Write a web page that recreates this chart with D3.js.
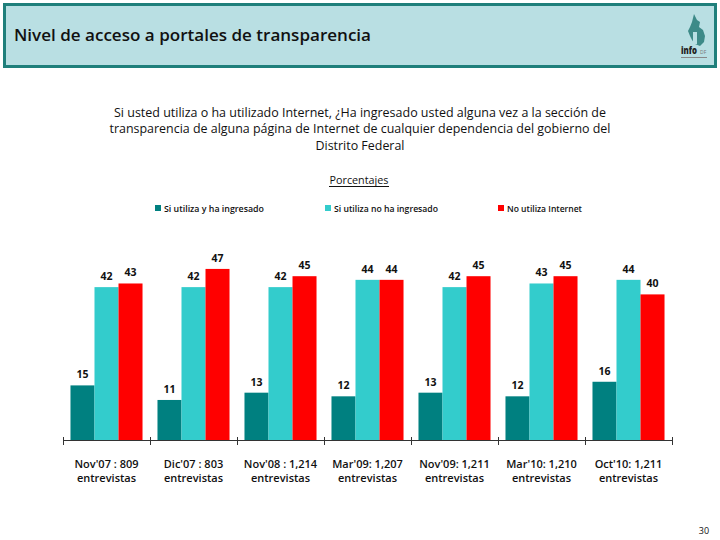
<!DOCTYPE html>
<html><head><meta charset="utf-8">
<script src="https://cdn.jsdelivr.net/npm/d3@7"></script>
<style>html,body{margin:0;padding:0;background:#fff;}svg{display:block;}</style>
</head><body>
<script>
const categories = ["Nov'07 : 809", "Dic'07 : 803", "Nov'08 : 1,214", "Mar'09: 1,207", "Nov'09: 1,211", "Mar'10: 1,210", "Oct'10: 1,211"];
const categorySub = "entrevistas";
const seriesNames = ["Si utiliza y ha ingresado", "Si utiliza no ha ingresado", "No utiliza Internet"];
const utilizaIngresado = [15, 11, 13, 12, 13, 12, 16];
const utilizaNoIngresado = [42, 42, 42, 44, 42, 43, 44];
const noUtiliza = [43, 47, 45, 44, 45, 45, 40];
const colors = ["#008080", "#33CCCC", "#FF0000"];
const titleText = "Nivel de acceso a portales de transparencia";
const questionLines = ["Si usted utiliza o ha utilizado Internet, ¿Ha ingresado usted alguna vez a la sección de",
  "transparencia de alguna página de Internet de cualquier dependencia del gobierno del",
  "Distrito Federal"];
const subtitle = "Porcentajes";
const pageNum = "30";

const series = [utilizaIngresado, utilizaNoIngresado, noUtiliza];
const font = "'Open Sans', 'Noto Sans', sans-serif";

const svg = d3.select("body").append("svg").attr("width", 720).attr("height", 540);

// header bar
svg.append("rect").attr("x", 4.5).attr("y", 4.5).attr("width", 711).attr("height", 62)
  .attr("fill", "#B9DFE3").attr("stroke", "#1F7F7B").attr("stroke-width", 3);
svg.append("text").attr("x", 14).attr("y", 41).text(titleText)
  .attr("font-family", font).attr("font-weight", 600).attr("font-size", 16.5).attr("fill", "#111")
  .attr("textLength", 357).attr("lengthAdjust", "spacingAndGlyphs");

// logo
const logo = svg.append("g");
logo.append("path").attr("d", "M694,14 L697,20 L700,22 L699,27 L703,30 L705,36 L704,42 L700,46 L695,44 L692,40 L690,36 L688,31 L690,27 L692,22 Z")
  .attr("fill", "#3D8A88");
logo.append("rect").attr("x", 693).attr("y", 32).attr("width", 4).attr("height", 12).attr("fill", "#B9DFE3");
logo.append("text").attr("x", 681).attr("y", 54).text("info")
  .attr("font-family", font).attr("font-weight", 800).attr("font-size", 10).attr("fill", "#222")
  .attr("textLength", 16).attr("lengthAdjust", "spacingAndGlyphs");
logo.append("text").attr("x", 700).attr("y", 54).text("DF")
  .attr("font-family", font).attr("font-size", 5).attr("fill", "#777");
logo.append("rect").attr("x", 681).attr("y", 57).attr("width", 26).attr("height", 1).attr("fill", "#888");

// question
const qy = [117, 133, 150];
const qlen = [492, 501, 89];
questionLines.forEach((t, i) => {
  svg.append("text").attr("x", 360).attr("y", qy[i]).attr("text-anchor", "middle").text(t)
    .attr("font-family", font).attr("font-size", 12.5).attr("fill", "#111")
    .attr("textLength", qlen[i]).attr("lengthAdjust", "spacingAndGlyphs");
});

// subtitle
svg.append("text").attr("x", 359).attr("y", 184).attr("text-anchor", "middle").text(subtitle)
  .attr("font-family", font).attr("font-size", 10.5).attr("fill", "#111")
  .attr("textLength", 59).attr("lengthAdjust", "spacingAndGlyphs");
svg.append("line").attr("x1", 329).attr("x2", 389).attr("y1", 186.5).attr("y2", 186.5)
  .attr("stroke", "#111").attr("stroke-width", 1);

// legend
const legX = [155, 325, 498];
const legLen = [100, 104, 75];
seriesNames.forEach((n, i) => {
  svg.append("rect").attr("x", legX[i]).attr("y", 205).attr("width", 6).attr("height", 6).attr("fill", colors[i]);
  svg.append("text").attr("x", legX[i] + 9).attr("y", 211.5).text(n)
    .attr("font-family", font).attr("font-weight", 600).attr("font-size", 9.5).attr("fill", "#111")
    .attr("textLength", legLen[i]).attr("lengthAdjust", "spacingAndGlyphs");
});

// scales
const x0 = d3.scaleBand().domain(categories).range([63, 672]).paddingInner(0.172).paddingOuter(0.086);
const x1 = d3.scaleBand().domain(d3.range(3)).range([0, x0.bandwidth()]);
const y = d3.scaleLinear().domain([0, 50]).range([440, 258]);

const groups = svg.append("g").selectAll("g").data(categories).join("g")
  .attr("transform", d => `translate(${x0(d)},0)`);

groups.selectAll("rect").data((d, ci) => series.map((s, si) => ({si, v: s[ci]}))).join("rect")
  .attr("x", d => x1(d.si)).attr("width", x1.bandwidth())
  .attr("y", d => y(d.v)).attr("height", d => y(0) - y(d.v))
  .attr("fill", d => colors[d.si]);

groups.selectAll("text.val").data((d, ci) => series.map((s, si) => ({si, v: s[ci]}))).join("text")
  .attr("class", "val")
  .attr("x", d => x1(d.si) + x1.bandwidth() / 2)
  .attr("y", d => y(d.v) - 7)
  .attr("text-anchor", "middle").text(d => d.v)
  .attr("font-family", font).attr("font-weight", 700).attr("font-size", 10.5).attr("fill", "#111");

// axis
const step = x0.step();
svg.append("line").attr("x1", 63).attr("x2", 672).attr("y1", 440.5).attr("y2", 440.5)
  .attr("stroke", "#333").attr("stroke-width", 1);
d3.range(categories.length + 1).forEach(i => {
  const xt = Math.round(63 + i * step) + 0.5;
  svg.append("line").attr("x1", xt).attr("x2", xt).attr("y1", 437).attr("y2", 445)
    .attr("stroke", "#333").attr("stroke-width", 1);
});

// category labels
categories.forEach(c => {
  const cx = x0(c) + x0.bandwidth() / 2;
  svg.append("text").attr("x", cx).attr("y", 468).attr("text-anchor", "middle").text(c)
    .attr("font-family", font).attr("font-weight", 600).attr("font-size", 11).attr("fill", "#111");
  svg.append("text").attr("x", cx).attr("y", 482).attr("text-anchor", "middle").text(categorySub)
    .attr("font-family", font).attr("font-weight", 600).attr("font-size", 11).attr("fill", "#111");
});

// page number
svg.append("text").attr("x", 704).attr("y", 534).attr("text-anchor", "middle").text(pageNum)
  .attr("font-family", font).attr("font-size", 9).attr("fill", "#111");
</script>
</body></html>
